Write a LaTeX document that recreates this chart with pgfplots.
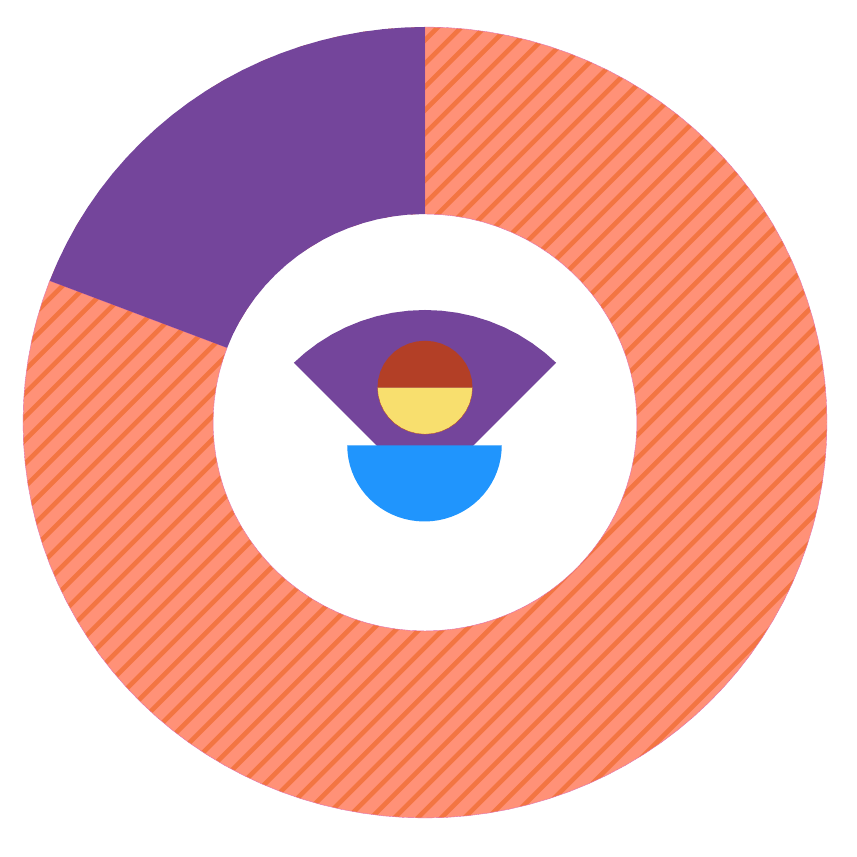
\documentclass[border=0pt]{standalone}
\usepackage{pgfplots}
\usepackage{pgfplotstable}
\pgfplotsset{compat=1.18}
\definecolor{salmonc}{HTML}{FF9177}
\definecolor{stripec}{HTML}{F37542}
\definecolor{edgec}{HTML}{E0609A}
\definecolor{purplec}{HTML}{74459B}
\definecolor{bluec}{HTML}{2095FD}
\definecolor{brownc}{HTML}{B33F26}
\definecolor{yellowc}{HTML}{F8DF6E}
\pgfplotstableread[row sep=\\]{
a r\\
159 395.5\\162 395.5\\165 395.5\\168 395.5\\171 395.5\\174 395.5\\177 395.5\\180 395.5\\183 395.5\\186 395.5\\189 395.5\\192 395.5\\195 395.5\\198 395.5\\201 395.5\\204 395.5\\207 395.5\\210 395.5\\213 395.5\\216 395.5\\219 395.5\\222 395.5\\225 395.5\\228 395.5\\231 395.5\\234 395.5\\237 395.5\\240 395.5\\243 395.5\\246 395.5\\249 395.5\\252 395.5\\255 395.5\\258 395.5\\261 395.5\\264 395.5\\267 395.5\\270 395.5\\273 395.5\\276 395.5\\279 395.5\\282 395.5\\285 395.5\\288 395.5\\291 395.5\\294 395.5\\297 395.5\\300 395.5\\303 395.5\\306 395.5\\309 395.5\\312 395.5\\315 395.5\\318 395.5\\321 395.5\\324 395.5\\327 395.5\\330 395.5\\333 395.5\\336 395.5\\339 395.5\\342 395.5\\345 395.5\\348 395.5\\351 395.5\\354 395.5\\357 395.5\\360 395.5\\363 395.5\\366 395.5\\369 395.5\\372 395.5\\375 395.5\\378 395.5\\381 395.5\\384 395.5\\387 395.5\\390 395.5\\393 395.5\\396 395.5\\399 395.5\\402 395.5\\405 395.5\\408 395.5\\411 395.5\\414 395.5\\417 395.5\\420 395.5\\423 395.5\\426 395.5\\429 395.5\\432 395.5\\435 395.5\\438 395.5\\441 395.5\\444 395.5\\447 395.5\\450 395.5\\
450 208.5\\446 208.5\\442 208.5\\438 208.5\\434 208.5\\430 208.5\\426 208.5\\422 208.5\\418 208.5\\414 208.5\\410 208.5\\406 208.5\\402 208.5\\398 208.5\\394 208.5\\390 208.5\\386 208.5\\382 208.5\\378 208.5\\374 208.5\\370 208.5\\366 208.5\\362 208.5\\358 208.5\\354 208.5\\350 208.5\\346 208.5\\342 208.5\\338 208.5\\334 208.5\\330 208.5\\326 208.5\\322 208.5\\318 208.5\\314 208.5\\310 208.5\\306 208.5\\302 208.5\\298 208.5\\294 208.5\\290 208.5\\286 208.5\\282 208.5\\278 208.5\\274 208.5\\270 208.5\\266 208.5\\262 208.5\\258 208.5\\254 208.5\\250 208.5\\246 208.5\\242 208.5\\238 208.5\\234 208.5\\230 208.5\\226 208.5\\222 208.5\\218 208.5\\214 208.5\\210 208.5\\206 208.5\\202 208.5\\198 208.5\\194 208.5\\190 208.5\\186 208.5\\182 208.5\\178 208.5\\174 208.5\\170 208.5\\166 208.5\\162 208.5\\159 208.5\\159 395.5\\
}\ringdata
\begin{document}
\begin{tikzpicture}
\useasboundingbox (0,0) rectangle (857pt,857pt);
\begin{axis}[at={(0,0)},anchor=south west,scale only axis,width=857pt,height=857pt,
 hide axis,clip=true,xmin=-418.1,xmax=425.0,ymin=-434.5,ymax=422.5,unbounded coords=jump]
% salmon ring
\addplot[data cs=polar,fill=salmonc,draw=none] table[x=a,y=r] {\ringdata};
% stripes
\addplot[stripec,line width=4.6pt] coordinates {
(-418.1,120.75)(425,977.75)(nan,nan)(-418.1,97.4)(425,954.4)(nan,nan)(-418.1,74.05)(425,931.05)(nan,nan)(-418.1,50.7)(425,907.7)(nan,nan)(-418.1,27.35)(425,884.35)(nan,nan)(-418.1,4)(425,861)(nan,nan)(-418.1,-19.35)(425,837.65)(nan,nan)(-418.1,-42.7)(425,814.3)(nan,nan)(-418.1,-66.05)(425,790.95)(nan,nan)(-418.1,-89.4)(425,767.6)(nan,nan)(-418.1,-112.75)(425,744.25)(nan,nan)(-418.1,-136.1)(425,720.9)(nan,nan)(-418.1,-159.45)(425,697.55)(nan,nan)(-418.1,-182.8)(425,674.2)(nan,nan)(-418.1,-206.15)(425,650.85)(nan,nan)(-418.1,-229.5)(425,627.5)(nan,nan)(-418.1,-252.85)(425,604.15)(nan,nan)(-418.1,-276.2)(425,580.8)(nan,nan)(-418.1,-299.55)(425,557.45)(nan,nan)(-418.1,-322.9)(425,534.1)(nan,nan)(-418.1,-346.25)(425,510.75)(nan,nan)(-418.1,-369.6)(425,487.4)(nan,nan)(-418.1,-392.95)(425,464.05)(nan,nan)(-418.1,-416.3)(425,440.7)(nan,nan)(-418.1,-439.65)(425,417.35)(nan,nan)(-418.1,-463)(425,394)(nan,nan)(-418.1,-486.35)(425,370.65)(nan,nan)(-418.1,-509.7)(425,347.3)(nan,nan)(-418.1,-533.05)(425,323.95)(nan,nan)(-418.1,-556.4)(425,300.6)(nan,nan)(-418.1,-579.75)(425,277.25)(nan,nan)(-418.1,-603.1)(425,253.9)(nan,nan)(-418.1,-626.45)(425,230.55)(nan,nan)(-418.1,-649.8)(425,207.2)(nan,nan)(-418.1,-673.15)(425,183.85)(nan,nan)(-418.1,-696.5)(425,160.5)(nan,nan)(-418.1,-719.85)(425,137.15)(nan,nan)(-418.1,-743.2)(425,113.8)(nan,nan)(-418.1,-766.55)(425,90.45)(nan,nan)(-418.1,-789.9)(425,67.1)(nan,nan)(-418.1,-813.25)(425,43.75)(nan,nan)(-418.1,-836.6)(425,20.4)(nan,nan)(-418.1,-859.95)(425,-2.95)(nan,nan)(-418.1,-883.3)(425,-26.3)(nan,nan)(-418.1,-906.65)(425,-49.65)(nan,nan)(-418.1,-930)(425,-73)(nan,nan)(-418.1,-953.35)(425,-96.35)(nan,nan)(-418.1,-976.7)(425,-119.7)(nan,nan)(-418.1,-1000.05)(425,-143.05)(nan,nan)(-418.1,-1023.4)(425,-166.4)(nan,nan)(-418.1,-1046.75)(425,-189.75)(nan,nan)(-418.1,-1070.1)(425,-213.1)(nan,nan)(-418.1,-1093.45)(425,-236.45)(nan,nan)(-418.1,-1116.8)(425,-259.8)(nan,nan)(-418.1,-1140.15)(425,-283.15)(nan,nan)(-418.1,-1163.5)(425,-306.5)(nan,nan)(-418.1,-1186.85)(425,-329.85)(nan,nan)(-418.1,-1210.2)(425,-353.2)(nan,nan)(-418.1,-1233.55)(425,-376.55)};
% white outside the ring
\addplot[data cs=polar,fill=white,draw=none] coordinates {
(90,900)(135,900)(225,900)(315,900)(405,900)(450,900)
(450,395.5)(447,395.5)(444,395.5)(441,395.5)(438,395.5)(435,395.5)(432,395.5)(429,395.5)(426,395.5)(423,395.5)(420,395.5)(417,395.5)(414,395.5)(411,395.5)(408,395.5)(405,395.5)(402,395.5)(399,395.5)(396,395.5)(393,395.5)(390,395.5)(387,395.5)(384,395.5)(381,395.5)(378,395.5)(375,395.5)(372,395.5)(369,395.5)(366,395.5)(363,395.5)(360,395.5)(357,395.5)(354,395.5)(351,395.5)(348,395.5)(345,395.5)(342,395.5)(339,395.5)(336,395.5)(333,395.5)(330,395.5)(327,395.5)(324,395.5)(321,395.5)(318,395.5)(315,395.5)(312,395.5)(309,395.5)(306,395.5)(303,395.5)(300,395.5)(297,395.5)(294,395.5)(291,395.5)(288,395.5)(285,395.5)(282,395.5)(279,395.5)(276,395.5)(273,395.5)(270,395.5)(267,395.5)(264,395.5)(261,395.5)(258,395.5)(255,395.5)(252,395.5)(249,395.5)(246,395.5)(243,395.5)(240,395.5)(237,395.5)(234,395.5)(231,395.5)(228,395.5)(225,395.5)(222,395.5)(219,395.5)(216,395.5)(213,395.5)(210,395.5)(207,395.5)(204,395.5)(201,395.5)(198,395.5)(195,395.5)(192,395.5)(189,395.5)(186,395.5)(183,395.5)(180,395.5)(177,395.5)(174,395.5)(171,395.5)(168,395.5)(165,395.5)(162,395.5)(159,395.5)(156,395.5)(153,395.5)(150,395.5)(147,395.5)(144,395.5)(141,395.5)(138,395.5)(135,395.5)(132,395.5)(129,395.5)(126,395.5)(123,395.5)(120,395.5)(117,395.5)(114,395.5)(111,395.5)(108,395.5)(105,395.5)(102,395.5)(99,395.5)(96,395.5)(93,395.5)(90,395.5)(90,900)};
% white hole
\addplot[data cs=polar,fill=white,draw=none] coordinates {
(0,208.5)(4,208.5)(8,208.5)(12,208.5)(16,208.5)(20,208.5)(24,208.5)(28,208.5)(32,208.5)(36,208.5)(40,208.5)(44,208.5)(48,208.5)(52,208.5)(56,208.5)(60,208.5)(64,208.5)(68,208.5)(72,208.5)(76,208.5)(80,208.5)(84,208.5)(88,208.5)(92,208.5)(96,208.5)(100,208.5)(104,208.5)(108,208.5)(112,208.5)(116,208.5)(120,208.5)(124,208.5)(128,208.5)(132,208.5)(136,208.5)(140,208.5)(144,208.5)(148,208.5)(152,208.5)(156,208.5)(160,208.5)(164,208.5)(168,208.5)(172,208.5)(176,208.5)(180,208.5)(184,208.5)(188,208.5)(192,208.5)(196,208.5)(200,208.5)(204,208.5)(208,208.5)(212,208.5)(216,208.5)(220,208.5)(224,208.5)(228,208.5)(232,208.5)(236,208.5)(240,208.5)(244,208.5)(248,208.5)(252,208.5)(256,208.5)(260,208.5)(264,208.5)(268,208.5)(272,208.5)(276,208.5)(280,208.5)(284,208.5)(288,208.5)(292,208.5)(296,208.5)(300,208.5)(304,208.5)(308,208.5)(312,208.5)(316,208.5)(320,208.5)(324,208.5)(328,208.5)(332,208.5)(336,208.5)(340,208.5)(344,208.5)(348,208.5)(352,208.5)(356,208.5)(360,208.5)};
% ring outline
\addplot[data cs=polar,draw=edgec,line width=0.4pt] table[x=a,y=r] {\ringdata};
% purple slice of the ring
\addplot[data cs=polar,fill=purplec,draw=none] coordinates {
(90,395.5)(93,395.5)(96,395.5)(99,395.5)(102,395.5)(105,395.5)(108,395.5)(111,395.5)(114,395.5)(117,395.5)(120,395.5)(123,395.5)(126,395.5)(129,395.5)(132,395.5)(135,395.5)(138,395.5)(141,395.5)(144,395.5)(147,395.5)(150,395.5)(153,395.5)(156,395.5)(159,395.5)
(159,208.5)(155,208.5)(151,208.5)(147,208.5)(143,208.5)(139,208.5)(135,208.5)(131,208.5)(127,208.5)(123,208.5)(119,208.5)(115,208.5)(111,208.5)(107,208.5)(103,208.5)(99,208.5)(95,208.5)(90,208.5)(90,395.5)};
% inner purple sector
\addplot[data cs=polar,fill=purplec,draw=none,yshift=-71.5pt] coordinates {
(0,0)(45.5,184)(50,184)(55,184)(60,184)(65,184)(70,184)(75,184)(80,184)(85,184)(90,184)(95,184)(100,184)(105,184)(110,184)(115,184)(120,184)(125,184)(130,184)(134.5,184)(0,0)};
% blue half disc
\addplot[data cs=polar,fill=bluec,draw=none,yshift=-23pt,xshift=-0.5pt] coordinates {
(180,76)(185,76)(190,76)(195,76)(200,76)(205,76)(210,76)(215,76)(220,76)(225,76)(230,76)(235,76)(240,76)(245,76)(250,76)(255,76)(260,76)(265,76)(270,76)(275,76)(280,76)(285,76)(290,76)(295,76)(300,76)(305,76)(310,76)(315,76)(320,76)(325,76)(330,76)(335,76)(340,76)(345,76)(350,76)(355,76)(360,76)(180,76)};
% small disc, lower half
\addplot[data cs=polar,fill=yellowc,draw=brownc,line width=0.3pt,yshift=35pt] coordinates {
(180,46.75)(190,46.75)(200,46.75)(210,46.75)(220,46.75)(230,46.75)(240,46.75)(250,46.75)(260,46.75)(270,46.75)(280,46.75)(290,46.75)(300,46.75)(310,46.75)(320,46.75)(330,46.75)(340,46.75)(350,46.75)(360,46.75)(180,46.75)};
% small disc, upper half
\addplot[data cs=polar,fill=brownc,draw=none,yshift=35pt] coordinates {
(0,46.75)(10,46.75)(20,46.75)(30,46.75)(40,46.75)(50,46.75)(60,46.75)(70,46.75)(80,46.75)(90,46.75)(100,46.75)(110,46.75)(120,46.75)(130,46.75)(140,46.75)(150,46.75)(160,46.75)(170,46.75)(180,46.75)(0,46.75)};
\end{axis}
\end{tikzpicture}
\end{document}
